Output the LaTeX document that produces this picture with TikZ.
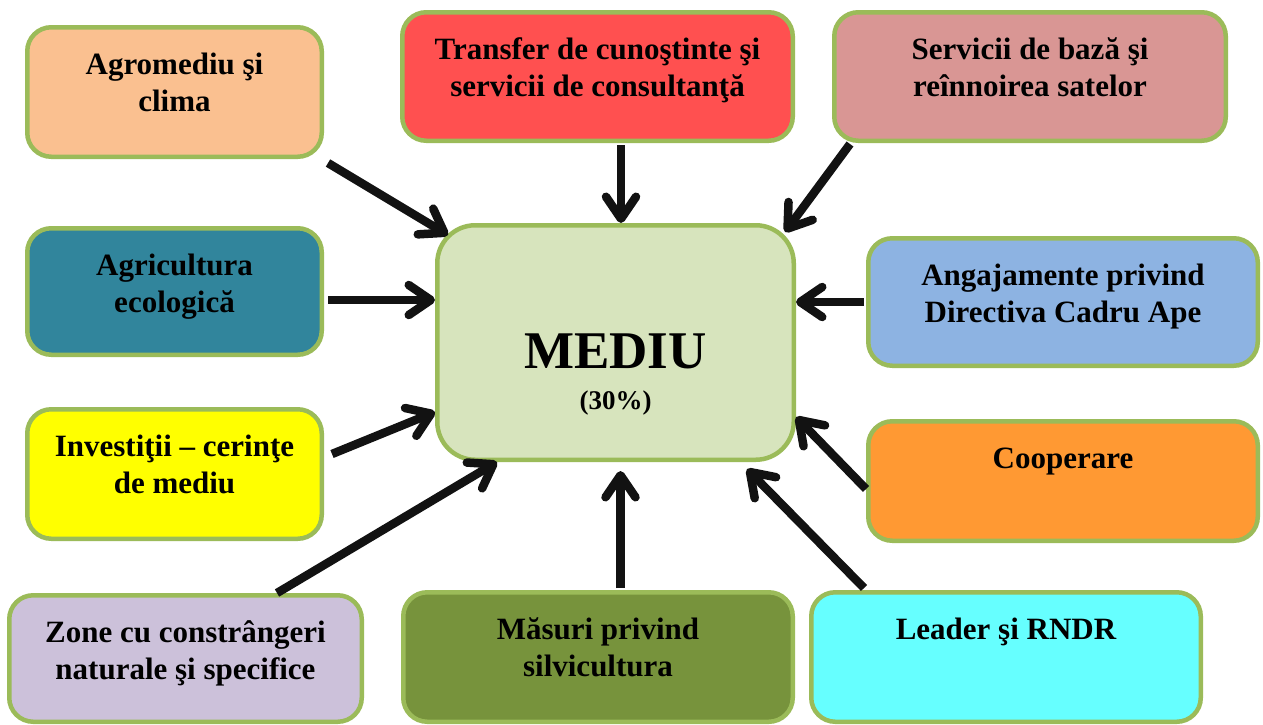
\documentclass[tikz,border=0pt]{standalone}
\usepackage{fontspec}
\setmainfont{Liberation Serif}
\usepackage{tikz}
\usepackage{xcolor}
\usetikzlibrary{arrows.meta,positioning}
\definecolor{rimgreen}{RGB}{155,187,89}
\definecolor{centregreen}{RGB}{215,228,189}
\definecolor{agropeach}{RGB}{250,192,144}
\definecolor{transred}{RGB}{255,80,80}
\definecolor{servrose}{RGB}{217,150,148}
\definecolor{ecoteal}{RGB}{49,133,156}
\definecolor{apeblue}{RGB}{141,179,226}
\definecolor{invyellow}{RGB}{255,255,0}
\definecolor{cooporange}{RGB}{255,153,51}
\definecolor{zonelilac}{RGB}{204,193,218}
\definecolor{silvolive}{RGB}{119,147,60}
\definecolor{leadcyan}{RGB}{102,255,255}
\newcommand{\boxlines}[3]{\parbox[c][#2][t]{#1}{\centering\rule{0pt}{47.5pt}#3}}

\begin{document}
\begin{tikzpicture}[x=1pt,y=-1pt,
    box/.style={draw=rimgreen,line width=4.5pt,rounded corners=24pt,inner sep=0pt,
        font=\fontsize{31}{37}\selectfont\bfseries},
    feed/.style={draw=black!93,line width=8.5pt,-{Straight Barb[length=22pt,width=30pt,round]}}]
    \useasboundingbox (0,0) rectangle (1263,724);

    % Centre
    \node[box,fill=centregreen,rounded corners=38pt] (mediu) at (615.5,342.5)
        {\parbox[c][234.5pt][t]{356.5pt}{\centering\fontsize{27}{41}\selectfont
         \rule{0pt}{143.5pt}{\fontsize{53}{41}\selectfont MEDIU}\\(30\%)}};

    % Measures round the centre
    \node[box,fill=agropeach] (agro) at (174.5,92)
        {\boxlines{294.5pt}{129.5pt}{Agromediu şi\\clima}};
    \node[box,fill=transred] (transfer) at (597.5,76.5)
        {\boxlines{390.5pt}{128.5pt}{Transfer de cunoştinte şi\\servicii de consultanţă}};
    \node[box,fill=servrose] (servicii) at (1030,76.5)
        {\boxlines{391.5pt}{128.5pt}{Servicii de bază şi\\reînnoirea satelor}};
    \node[box,fill=ecoteal] (agri) at (174.5,291.5)
        {\boxlines{294.5pt}{126.5pt}{Agricultura\\ecologică}};
    \node[box,fill=apeblue] (ape) at (1063,302)
        {\boxlines{389.5pt}{127.5pt}{Angajamente privind\\Directiva Cadru Ape}};
    \node[box,fill=invyellow] (invest) at (174.5,474)
        {\boxlines{294.5pt}{129.5pt}{Investiţii – cerinţe\\de mediu}};
    \node[box,fill=cooporange] (coop) at (1063,481)
        {\boxlines{389.5pt}{119.5pt}{Cooperare}};
    \node[box,fill=zonelilac] (zone) at (185.5,658.5)
        {\boxlines{352.5pt}{126.5pt}{Zone cu constrângeri\\naturale şi specifice}};
    \node[box,fill=silvolive] (silv) at (598,657)
        {\boxlines{389.5pt}{129.5pt}{Măsuri privind\\silvicultura}};
    \node[box,fill=leadcyan] (leader) at (1006,657)
        {\boxlines{389.5pt}{129.5pt}{Leader şi RNDR}};

    % Arrows into the centre
    \draw[feed] ([shift={(4,4)}]agro.south east) -- ([shift={(13,12)}]mediu.north west);
    \draw[feed] ([shift={(23.5,2)}]transfer.south) -- ([shift={(5.5,0)}]mediu.north);
    \draw[feed] ([shift={(18,1)}]servicii.south west) -- ([shift={(-11,9)}]mediu.north east);
    \draw[feed] ([shift={(4,8.5)}]agri.east) -- ([shift={(0,-42.5)}]mediu.west);
    \draw[feed] ([shift={(-2,0)}]ape.west) -- ([shift={(0,-40.5)}]mediu.east);
    \draw[feed] ([shift={(8,-20)}]invest.east) -- ([shift={(0,69.5)}]mediu.west);
    \draw[feed] ([shift={(0,8)}]coop.west) -- ([shift={(0,74.5)}]mediu.east);
    \draw[feed] ([shift={(91.5,0)}]zone.north) -- ([shift={(-118.5,0)}]mediu.south);
    \draw[feed] ([shift={(22.5,-2)}]silv.north) -- ([shift={(5,9)}]mediu.south);
    \draw[feed] ([shift={(55,-2)}]leader.north west) -- ([shift={(131.5,7)}]mediu.south);
\end{tikzpicture}
\end{document}
